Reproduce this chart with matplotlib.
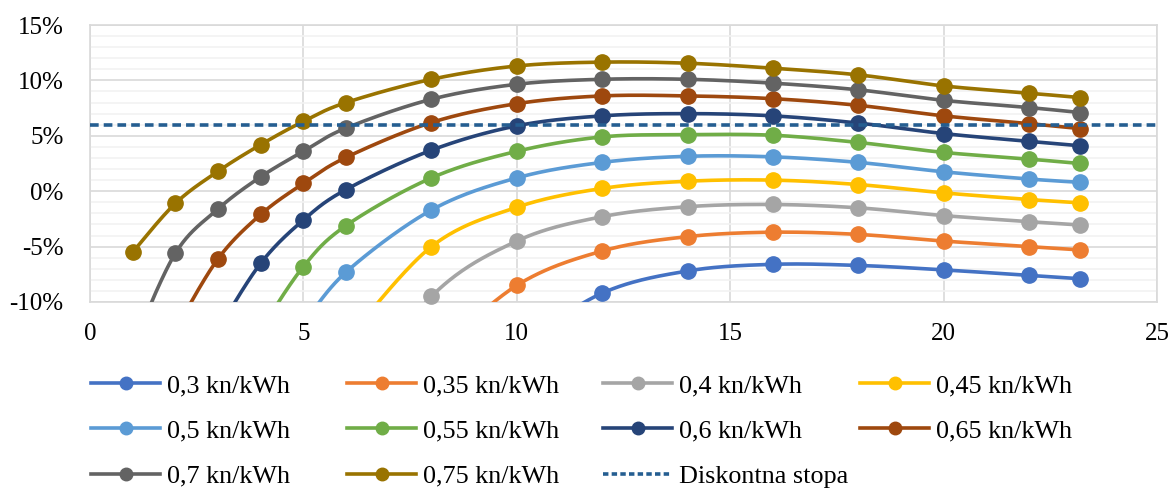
import numpy as np
import matplotlib
matplotlib.use("Agg")
import matplotlib.pyplot as plt
from matplotlib.lines import Line2D
from matplotlib.ticker import FuncFormatter, MultipleLocator

plt.rcParams['font.family'] = ['Liberation Serif', 'DejaVu Serif']

years = [1, 2, 3, 4, 5, 6, 8, 10, 12, 14, 16, 18, 20, 22, 23.2]
nan = np.nan
labels = ["0,3 kn/kWh", "0,35 kn/kWh", "0,4 kn/kWh", "0,45 kn/kWh", "0,5 kn/kWh",
          "0,55 kn/kWh", "0,6 kn/kWh", "0,65 kn/kWh", "0,7 kn/kWh", "0,75 kn/kWh"]
colors = ["#4472C4", "#ED7D31", "#A5A5A5", "#FFC000", "#5B9BD5",
          "#70AD47", "#264478", "#9E480E", "#636363", "#997300"]

irr_030 = [nan, nan, nan, nan, nan, nan, nan, -14.0, -9.2, -7.2, -6.6, -6.7, -7.1, -7.6, -7.9]
irr_035 = [nan, nan, nan, nan, nan, nan, -15.0, -8.5, -5.4, -4.1, -3.7, -3.9, -4.5, -5.0, -5.3]
irr_040 = [nan, nan, nan, nan, nan, -20.0, -9.5, -4.5, -2.3, -1.4, -1.2, -1.5, -2.2, -2.75, -3.05]
irr_045 = [nan, nan, nan, nan, nan, -13.5, -5.0, -1.45, 0.25, 0.9, 1.0, 0.6, -0.15, -0.75, -1.05]
irr_050 = [nan, nan, nan, nan, -12.0, -7.3, -1.7, 1.2, 2.6, 3.15, 3.1, 2.6, 1.75, 1.1, 0.8]
irr_055 = [nan, nan, nan, -12.5, -6.8, -3.1, 1.2, 3.6, 4.9, 5.1, 5.05, 4.4, 3.5, 2.9, 2.5]
irr_060 = [nan, nan, -12.5, -6.5, -2.6, 0.15, 3.7, 5.9, 6.8, 7.0, 6.8, 6.15, 5.2, 4.5, 4.1]
irr_065 = [nan, -12.5, -6.1, -2.1, 0.7, 3.05, 6.2, 7.9, 8.6, 8.6, 8.35, 7.75, 6.8, 6.1, 5.65]
irr_070 = [-14.0, -5.6, -1.6, 1.3, 3.6, 5.7, 8.3, 9.65, 10.1, 10.1, 9.75, 9.15, 8.2, 7.55, 7.1]
irr_075 = [-5.5, -1.1, 1.8, 4.2, 6.3, 8.0, 10.1, 11.3, 11.65, 11.55, 11.1, 10.5, 9.5, 8.85, 8.45]
series = [irr_030, irr_035, irr_040, irr_045, irr_050, irr_055, irr_060, irr_065, irr_070, irr_075]

discount_label = "Diskontna stopa"
discount_rate = 6.0
discount_color = "#255E91"

x_ticks = [0, 5, 10, 15, 20, 25]
y_ticks = [-10, -5, 0, 5, 10, 15]


def excel_smooth(xs, ys, n=40):
    pts = np.column_stack([xs, ys])
    out = []
    for i in range(len(pts) - 1):
        p0 = pts[max(i - 1, 0)]
        p1 = pts[i]
        p2 = pts[i + 1]
        p3 = pts[min(i + 2, len(pts) - 1)]
        c1 = p1 + (p2 - p0) / 6.0
        c2 = p2 - (p3 - p1) / 6.0
        t = np.linspace(0, 1, n)[:, None]
        seg = (1 - t) ** 3 * p1 + 3 * (1 - t) ** 2 * t * c1 + 3 * (1 - t) * t ** 2 * c2 + t ** 3 * p2
        out.append(seg if i == 0 else seg[1:])
    return np.vstack(out)


W, H = 1171, 490
fig = plt.figure(figsize=(W / 100, H / 100), dpi=100)
L, R, T, B = 90, 1157, 25, 302
ax = fig.add_axes([L / W, 1 - B / H, (R - L) / W, (B - T) / H])

ax.set_xlim(0, 25)
ax.set_ylim(-10, 15)
ax.set_xticks(x_ticks)
ax.set_yticks(y_ticks)
ax.yaxis.set_minor_locator(MultipleLocator(1))
ax.yaxis.set_major_formatter(FuncFormatter(lambda v, p: f"{int(round(v))}%".replace("\u2212", "-")))
ax.grid(True, which='major', color='#D9D9D9', linewidth=1.2)
ax.grid(True, which='minor', axis='y', color='#F2F2F2', linewidth=1.2)
ax.set_axisbelow(True)
for s in ax.spines.values():
    s.set_color('#D9D9D9')
    s.set_linewidth(1.2)
ax.tick_params(axis='both', which='both', length=0, labelsize=18, colors='black')
ax.tick_params(axis='y', pad=19)
ax.tick_params(axis='x', pad=15)

handles = []
for vals, col, lab in zip(series, colors, labels):
    xs = np.array(years, dtype=float)
    ys = np.array(vals, dtype=float)
    m = ~np.isnan(ys)
    xs, ys = xs[m], ys[m]
    curve = excel_smooth(xs, ys)
    ax.plot(curve[:, 0], curve[:, 1], color=col, linewidth=2.6, solid_capstyle='round', zorder=3)
    vis = ys >= -10
    ax.plot(xs[vis], ys[vis], linestyle='none', marker='o', markersize=11,
            color=col, clip_on=False, zorder=4)
    handles.append(Line2D([], [], color=col, linewidth=2.6, marker='o', markersize=9, label=lab))

ax.axhline(discount_rate, color=discount_color, linewidth=2.6, linestyle=(0, (2.4, 1.4)), zorder=5)
handles.append(Line2D([], [], color=discount_color, linewidth=2.6, linestyle=(0, (1.5, 0.9)),
                      label=discount_label))

# legend: 4 equal-width columns, row-major order
col_x = [91, 347, 603, 860]
for c in range(4):
    hs = handles[c::4]
    leg = fig.legend(handles=hs, loc='upper left', bbox_to_anchor=(col_x[c] / W, 1 - 374 / H),
                     frameon=False, fontsize=18.8, handlelength=2.65, handletextpad=0.25,
                     labelspacing=0.84, borderpad=0, borderaxespad=0)

fig.savefig("out.png", dpi=100)
